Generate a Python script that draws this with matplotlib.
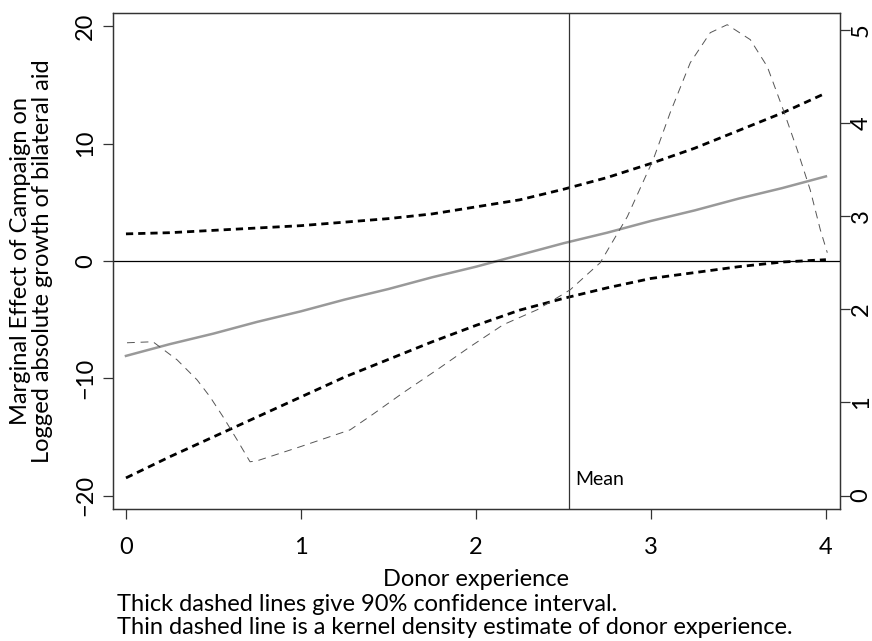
import numpy as np
import matplotlib
matplotlib.use('Agg')
import matplotlib.pyplot as plt

plt.rcParams['font.family'] = ['Lato', 'DejaVu Sans']

# marginal effect line and 90% CI
x_ci = [0, 0.25, 0.5, 0.75, 1, 1.25, 1.5, 1.75, 2, 2.25, 2.5, 2.75, 3, 3.25, 3.5, 3.75, 4]
me = [-8.1, -7.1, -6.2, -5.2, -4.3, -3.3, -2.4, -1.4, -0.5, 0.5, 1.5, 2.4, 3.4, 4.3, 5.3, 6.2, 7.2]
upper = [2.3, 2.4, 2.6, 2.8, 3.0, 3.3, 3.6, 4.0, 4.6, 5.2, 6.1, 7.1, 8.3, 9.6, 11.1, 12.6, 14.3]
lower = [-18.5, -16.7, -15.0, -13.3, -11.6, -9.9, -8.4, -6.9, -5.5, -4.2, -3.2, -2.3, -1.5,
         -1.0, -0.5, -0.1, 0.1]

# kernel density of donor experience (right axis)
x_dens = [0.006, 0.154, 0.292, 0.406, 0.480, 0.555, 0.635, 0.709, 0.749, 0.995,
          1.281, 1.407, 1.584, 1.778, 1.967, 2.156, 2.350, 2.464, 2.539, 2.653,
          2.710, 2.865, 3.013, 3.110, 3.225, 3.339, 3.436, 3.568, 3.665, 3.756,
          3.836, 3.910, 3.968, 4.008]
dens = [1.642, 1.653, 1.459, 1.244, 1.062, 0.846, 0.599, 0.363, 0.373, 0.524,
        0.706, 0.868, 1.105, 1.352, 1.600, 1.836, 1.997, 2.126, 2.212, 2.406,
        2.502, 2.997, 3.610, 4.115, 4.653, 4.975, 5.061, 4.900, 4.610, 4.147,
        3.717, 3.287, 2.857, 2.610]

mean_exp = 2.53

fig = plt.figure(figsize=(8.72, 6.41), dpi=100)
ax = fig.add_axes([0.1292, 0.2059, 0.8344, 0.7743])

ax.plot(x_ci, me, color='#999999', lw=1.8)
ax.plot(x_ci, upper, color='black', lw=2, dashes=(2.6, 1.8))
ax.plot(x_ci, lower, color='black', lw=2, dashes=(2.6, 1.8))
ax.axhline(0, color='black', lw=0.9)
ax.axvline(mean_exp, color='#333333', lw=0.9)
ax.text(mean_exp + 0.04, -18.6, 'Mean', fontsize=14, va='center', ha='left')

ax.set_xlim(-0.076, 4.082)
ax.set_ylim(-21.15, 21.15)
ax.set_xticks([0, 1, 2, 3, 4])
ax.set_yticks([-20, -10, 0, 10, 20])
ax.set_yticklabels(['\u221220', '\u221210', '0', '10', '20'], rotation=90, va='center')
ax.tick_params(labelsize=17, length=7, width=0.9, color='#333333')
ax.tick_params(axis='x', pad=13)
ax.tick_params(axis='y', pad=5)
ax.set_xlabel('Donor experience', fontsize=17, labelpad=8)
ax.set_ylabel('Marginal Effect of Campaign on\nLogged absolute growth of bilateral aid',
              fontsize=17, labelpad=16, linespacing=1.05)

ax2 = ax.twinx()
ax2.plot(x_dens, dens, color='#555555', lw=0.7, dashes=(8, 6))
ax2.set_ylim(-0.145, 5.19)
ax2.set_yticks([0, 1, 2, 3, 4, 5])
ax2.set_yticklabels(['0', '1', '2', '3', '4', '5'], rotation=90, va='center')
ax2.tick_params(labelsize=17, length=7, width=0.9, color='#333333', pad=0.5)

for a in (ax, ax2):
    for s in a.spines.values():
        s.set_color('#333333')
        s.set_linewidth(0.9)

fig.text(0.134, 0.0577, 'Thick dashed lines give 90% confidence interval.', fontsize=17, va='center')
fig.text(0.134, 0.0203, 'Thin dashed line is a kernel density estimate of donor experience.',
         fontsize=17, va='center')

plt.savefig('out.png', dpi=100)
